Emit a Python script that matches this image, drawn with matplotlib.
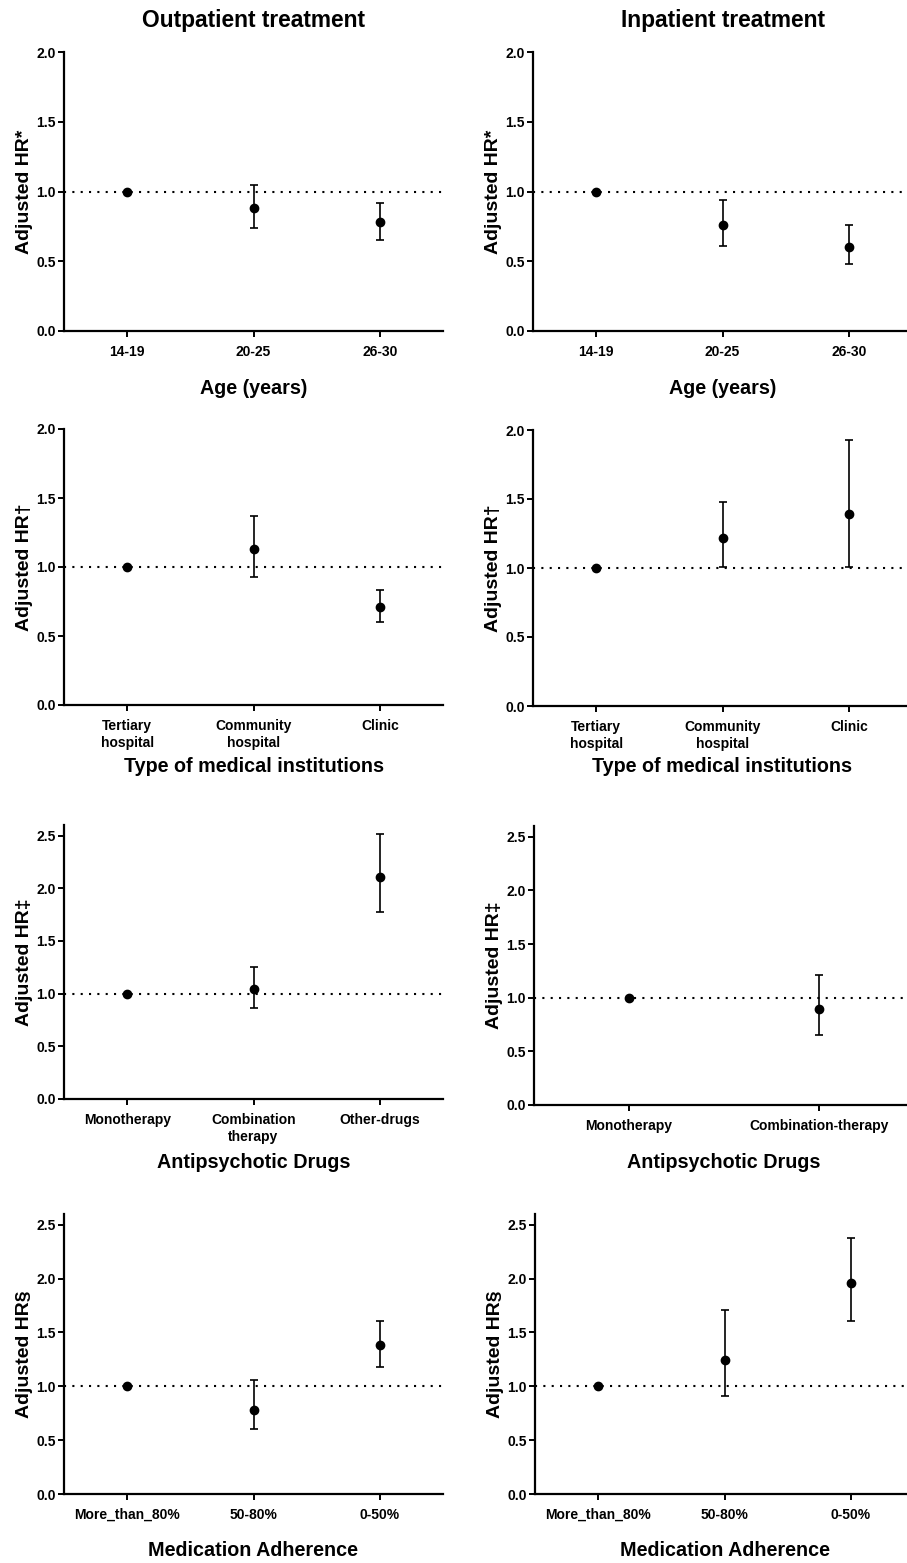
import matplotlib
matplotlib.use('Agg')
import matplotlib.pyplot as plt
import numpy as np

plt.rcParams['font.family'] = ['Liberation Sans', 'DejaVu Sans']
plt.rcParams['font.weight'] = 'bold'

# row 1: age
age_cats = ['14-19', '20-25', '26-30']
age_out_hr = [1.0, 0.88, 0.78]
age_out_lo = [1.0, 0.74, 0.65]
age_out_hi = [1.0, 1.05, 0.92]
age_in_hr = [1.0, 0.76, 0.60]
age_in_lo = [1.0, 0.61, 0.48]
age_in_hi = [1.0, 0.94, 0.76]

# row 2: type of medical institution
inst_cats = ['Tertiary\nhospital', 'Community\nhospital', 'Clinic']
inst_out_hr = [1.0, 1.13, 0.71]
inst_out_lo = [1.0, 0.93, 0.60]
inst_out_hi = [1.0, 1.37, 0.83]
inst_in_hr = [1.0, 1.22, 1.39]
inst_in_lo = [1.0, 1.01, 1.01]
inst_in_hi = [1.0, 1.48, 1.93]

# row 3: antipsychotic drugs
drug_out_cats = ['Monotherapy', 'Combination\ntherapy', 'Other-drugs']
drug_out_hr = [1.0, 1.04, 2.11]
drug_out_lo = [1.0, 0.86, 1.77]
drug_out_hi = [1.0, 1.25, 2.51]
drug_in_cats = ['Monotherapy', 'Combination-therapy']
drug_in_hr = [1.0, 0.89]
drug_in_lo = [1.0, 0.65]
drug_in_hi = [1.0, 1.21]

# row 4: medication adherence
adh_cats = ['More_than_80%', '50-80%', '0-50%']
adh_out_hr = [1.0, 0.78, 1.38]
adh_out_lo = [1.0, 0.60, 1.18]
adh_out_hi = [1.0, 1.06, 1.61]
adh_in_hr = [1.0, 1.24, 1.96]
adh_in_lo = [1.0, 0.91, 1.61]
adh_in_hi = [1.0, 1.71, 2.38]

W, H = 907, 1563
fig = plt.figure(figsize=(W / 100, H / 100), dpi=100)


def add_panel(px_left, px_right, px_top, px_bottom, cats, hr, lo, hi,
              ylim, yticks, ylabel, xlabel, xlab_y):
    ax = fig.add_axes([px_left / W, 1 - px_bottom / H,
                       (px_right - px_left) / W, (px_bottom - px_top) / H])
    x = np.arange(len(cats))
    hr = np.array(hr)
    err = [hr - np.array(lo), np.array(hi) - hr]
    ax.axhline(1.0, color='black', lw=1.5, ls=(0, (1, 3)), zorder=1)
    ax.errorbar(x, hr, yerr=err, fmt='o', color='black', ms=6,
                elinewidth=1.2, capsize=3, capthick=1.2, zorder=3)
    ax.set_xlim(-0.5, len(cats) - 0.5)
    ax.set_ylim(*ylim)
    ax.set_yticks(yticks)
    ax.set_yticklabels(['%.1f' % t for t in yticks], fontsize=10, fontweight='bold')
    ax.set_xticks(x)
    ax.set_xticklabels(cats, fontsize=10, fontweight='bold', linespacing=1.3)
    for s in ['top', 'right']:
        ax.spines[s].set_visible(False)
    for s in ['left', 'bottom']:
        ax.spines[s].set_linewidth(1.6)
    ax.tick_params(width=1.4, length=4, pad=2)
    ax.tick_params(axis='x', pad=6)
    ax.set_ylabel(ylabel, fontsize=14, fontweight='bold')
    ax.yaxis.label.set_va('center')
    ax.yaxis.set_label_coords(-0.105, 0.5)
    ax.set_xlabel(xlabel, fontsize=14.2, fontweight='bold')
    ax.xaxis.label.set_va('center')
    ax.xaxis.set_label_coords(0.5, (px_bottom - xlab_y) / (px_bottom - px_top))
    return ax


y2 = [0.0, 0.5, 1.0, 1.5, 2.0]
y25 = [0.0, 0.5, 1.0, 1.5, 2.0, 2.5]

add_panel(64, 443, 52, 331, age_cats, age_out_hr, age_out_lo, age_out_hi,
          (0, 2.0), y2, 'Adjusted HR*', 'Age (years)', 388)
add_panel(533, 912, 52, 331, age_cats, age_in_hr, age_in_lo, age_in_hi,
          (0, 2.0), y2, 'Adjusted HR*', 'Age (years)', 388)

add_panel(64, 443, 429, 705, inst_cats, inst_out_hr, inst_out_lo, inst_out_hi,
          (0, 2.0), y2, 'Adjusted HR\u2020', 'Type of medical institutions', 767)
add_panel(533, 912, 430, 706, inst_cats, inst_in_hr, inst_in_lo, inst_in_hi,
          (0, 2.0), y2, 'Adjusted HR\u2020', 'Type of medical institutions', 767)

add_panel(64, 443, 825, 1099, drug_out_cats, drug_out_hr, drug_out_lo, drug_out_hi,
          (0, 2.6), y25, 'Adjusted HR\u2021', 'Antipsychotic Drugs', 1163)
add_panel(534, 914, 826, 1105, drug_in_cats, drug_in_hr, drug_in_lo, drug_in_hi,
          (0, 2.6), y25, 'Adjusted HR\u2021', 'Antipsychotic Drugs', 1163)

add_panel(64, 443, 1214, 1494, adh_cats, adh_out_hr, adh_out_lo, adh_out_hi,
          (0, 2.6), y25, 'Adjusted HR\u00a7', 'Medication Adherence', 1550)
add_panel(535, 914, 1214, 1494, adh_cats, adh_in_hr, adh_in_lo, adh_in_hi,
          (0, 2.6), y25, 'Adjusted HR\u00a7', 'Medication Adherence', 1550)

fig.text(254 / W, 1 - 20 / H, 'Outpatient treatment', ha='center', va='center',
         fontsize=16.4, fontweight='bold')
fig.text(723 / W, 1 - 20 / H, 'Inpatient treatment', ha='center', va='center',
         fontsize=16.4, fontweight='bold')

fig.savefig('out.png', dpi=100)
